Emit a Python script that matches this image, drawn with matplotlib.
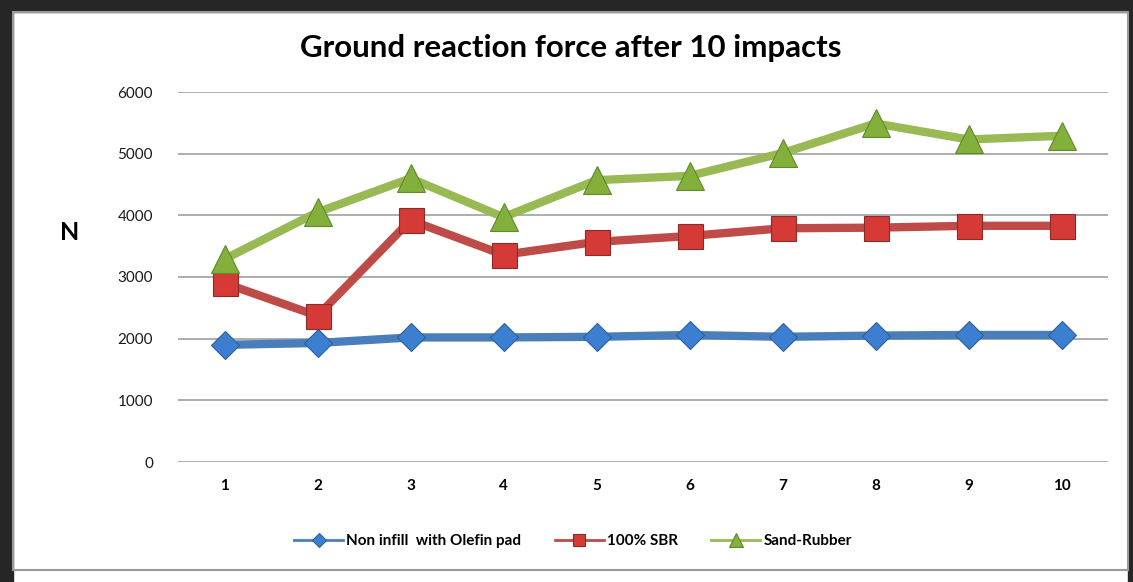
import matplotlib
matplotlib.use("Agg")
import matplotlib.pyplot as plt
from matplotlib.patches import Rectangle

impacts = [1, 2, 3, 4, 5, 6, 7, 8, 9, 10]
non_infill = [1900, 1930, 2020, 2020, 2030, 2060, 2030, 2050, 2060, 2060]
sbr = [2900, 2370, 3920, 3360, 3570, 3665, 3790, 3800, 3830, 3830]
sand_rubber = [3290, 4050, 4600, 3970, 4570, 4640, 5010, 5490, 5230, 5290]
y_ticks = [0, 1000, 2000, 3000, 4000, 5000, 6000]

plt.rcParams["font.family"] = ["Lato", "DejaVu Sans"]

fig = plt.figure(figsize=(11.33, 5.82), dpi=100)
fig.patch.set_facecolor("white")

# dark frame around the chart area (top, left, right)
dark = "#262626"
fig.patches.append(Rectangle((0, 0), 13 / 1133, 1, transform=fig.transFigure, color=dark, zorder=0))
fig.patches.append(Rectangle((1128 / 1133, 0), 5 / 1133, 1, transform=fig.transFigure, color=dark, zorder=0))
fig.patches.append(Rectangle((0, 1 - 12 / 582), 1, 12 / 582, transform=fig.transFigure, color=dark, zorder=0))
fig.patches.append(Rectangle((13 / 1133, 12 / 582), 1115 / 1133, 558 / 582, transform=fig.transFigure,
                             fill=False, edgecolor="#9a9a9a", linewidth=1.5, zorder=1))

ax = fig.add_axes([178 / 1133, 1 - 462 / 582, 930 / 1133, 370 / 582])

series = [
    ("Non infill  with Olefin pad", non_infill, "#4a7ebb", "D", "#3c7fd0", "#2b5f9e", 14),
    ("100% SBR", sbr, "#be4b48", "s", "#d63a36", "#8c2a27", 18),
    ("Sand-Rubber", sand_rubber, "#98b954", "^", "#82b03a", "#5f8a2a", 20),
]
for label, vals, lc, mk, fc, ec, ms in series:
    ax.plot(impacts, vals, color=lc, linewidth=6, marker=mk, markersize=ms,
            markerfacecolor=fc, markeredgecolor=ec, markeredgewidth=0.8,
            label=label, zorder=3)

ax.set_xlim(0.5, 10.5)
ax.set_ylim(0, 6000)
ax.set_yticks(y_ticks)
ax.set_xticks(impacts)
ax.grid(axis="y", color="#a0a0a0", linewidth=1.2)
ax.set_axisbelow(True)
for s in ax.spines.values():
    s.set_visible(False)
ax.tick_params(axis="both", length=0)
ax.tick_params(axis="y", labelsize=11, pad=18, labelcolor="#1a1a1a")
ax.tick_params(axis="x", pad=12)
for t in ax.get_xticklabels():
    t.set_fontweight("bold")
    t.set_fontsize(11)

fig.text(70 / 1133, 1 - 232 / 582, "N", fontsize=18, fontweight="bold", ha="center", va="center")
fig.text(571 / 1133, 1 - 48 / 582, "Ground reaction force after 10 impacts", fontsize=22.5,
         fontweight="bold", ha="center", va="center")

leg = fig.legend(handles=ax.get_lines(), loc="center", bbox_to_anchor=(573 / 1133, 1 - 541 / 582),
                 ncol=3, frameon=False, fontsize=11, handlelength=3.2, columnspacing=2.2,
                 handletextpad=0.2, markerscale=0.5)
for h in leg.legend_handles:
    h.set_linewidth(2)
for t in leg.get_texts():
    t.set_fontweight("bold")

fig.savefig("out.png", dpi=100, facecolor=fig.get_facecolor())
